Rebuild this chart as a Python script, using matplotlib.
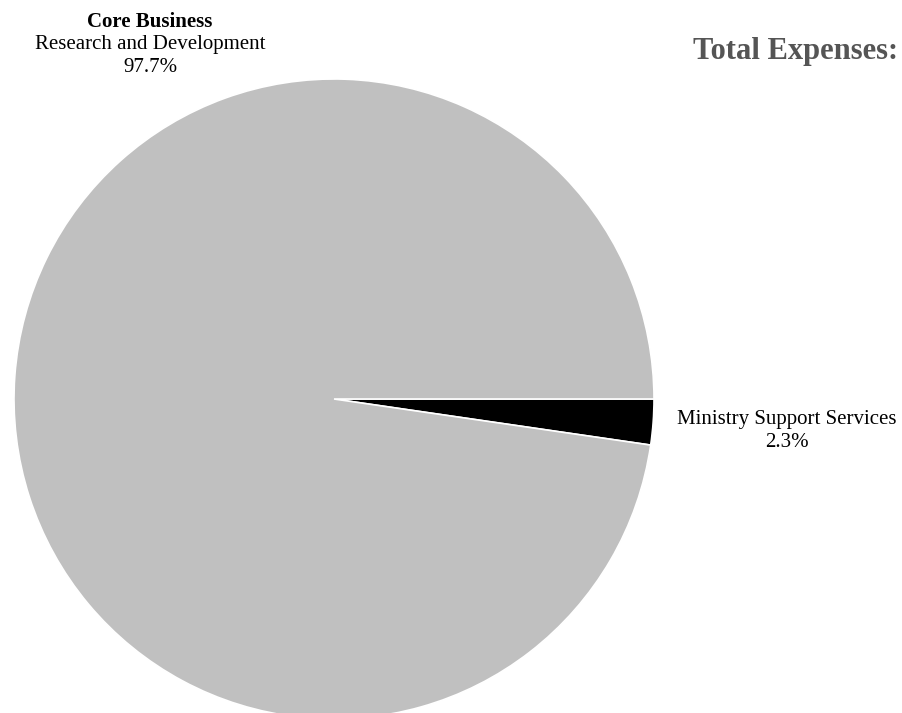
import matplotlib
matplotlib.use("Agg")
from matplotlib import pyplot as plt

plt.rcParams['font.family'] = ['Liberation Serif', 'DejaVu Serif']

# Expense shares (%)
categories = ["Ministry Support Services", "Core Business\nResearch and Development"]
shares = [2.3, 97.7]
colors = ["#000000", "#c0c0c0"]

fig = plt.figure(figsize=(9.03, 7.13), dpi=100)
ax = fig.add_axes([0, 0, 1, 1])

ax.pie(shares, colors=colors, startangle=0, counterclock=False,
       center=(334, 314), radius=320,
       wedgeprops=dict(edgecolor="white", linewidth=1.2))

# pie() resets limits, so set them afterwards
ax.set_xlim(0, 903)
ax.set_ylim(0, 713)
ax.set_aspect("equal")
ax.axis("off")

# labels
ax.text(150, 691, "Core Business", ha="center", va="center",
        fontsize=15, fontweight="bold")
ax.text(150, 669, "Research and Development", ha="center", va="center", fontsize=15)
ax.text(150, 646, f"{shares[1]}%", ha="center", va="center", fontsize=15)

ax.text(787, 293, "Ministry Support Services", ha="center", va="center", fontsize=15)
ax.text(787, 270, f"{shares[0]}%", ha="center", va="center", fontsize=15)

ax.text(898, 662, "Total Expenses:", ha="right", va="center",
        fontsize=22, fontweight="bold", color="#555555")

fig.savefig("out.png", dpi=100)
